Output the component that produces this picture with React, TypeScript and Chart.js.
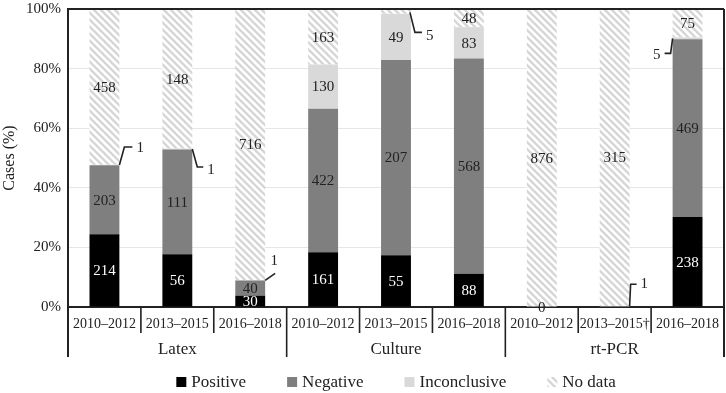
import React, { useEffect, useRef } from "react";
import { Chart, registerables } from "chart.js";

Chart.register(...registerables);

// ---------- data ----------
const categories = [
  "2010–2012", "2013–2015", "2016–2018",
  "2010–2012", "2013–2015", "2016–2018",
  "2010–2012", "2013–2015†", "2016–2018",
];
const groups = ["Latex", "Culture", "rt-PCR"];
const groupSize = 3;
const seriesNames = ["Positive", "Negative", "Inconclusive", "No data"];
const positive = [214, 56, 30, 161, 55, 88, 0, 0, 238];
const negative = [203, 111, 40, 422, 207, 568, 0, 0, 469];
const inconclusive = [1, 1, 1, 130, 49, 83, 0, 1, 5];
const noData = [458, 148, 716, 163, 5, 48, 876, 315, 75];
const yTicks = [0, 20, 40, 60, 80, 100];

const counts = [positive, negative, inconclusive, noData];
const totals = categories.map((_, j) => counts.reduce((s, arr) => s + arr[j], 0));
const percents = counts.map((arr) => arr.map((v, j) => (v / totals[j]) * 100));

// ---------- styles ----------
const FONT = "'Liberation Serif', 'Times New Roman', serif";
const TEXT = "#222222";
const LINE = "#222222";

type Callout = {
  ds: number;
  idx: number;
  side: "left" | "right" | "center";
  path: [number, number][];
  label: [number, number];
  align: CanvasTextAlign;
};

const callouts: Callout[] = [
  { ds: 2, idx: 0, side: "right", path: [[0, 0], [5, -18], [13, -18]], label: [17, -17], align: "left" },
  { ds: 2, idx: 1, side: "right", path: [[0, 0], [5, 18], [11, 18]], label: [15, 21], align: "left" },
  { ds: 2, idx: 2, side: "right", path: [[0, 0], [10, -7]], label: [9, -19], align: "center" },
  { ds: 3, idx: 4, side: "right", path: [[-1, 1], [4, 21], [11, 21]], label: [15, 25], align: "left" },
  { ds: 2, idx: 8, side: "left", path: [[0, 0], [-2, 15], [-8, 15]], label: [-12, 17], align: "right" },
  { ds: 2, idx: 7, side: "right", path: [[0, 0], [1, -22], [7, -22]], label: [11, -22], align: "left" },
  { ds: 0, idx: 6, side: "center", path: [], label: [0, 1], align: "center" },
];

function makeHatch(): CanvasPattern | string {
  const s = 7;
  const c = document.createElement("canvas");
  c.width = s;
  c.height = s;
  const ctx = c.getContext("2d");
  if (!ctx) return "#e6e6e6";
  ctx.fillStyle = "#ffffff";
  ctx.fillRect(0, 0, s, s);
  ctx.strokeStyle = "#d6d6d6";
  ctx.lineWidth = 2.3;
  ctx.beginPath();
  for (const k of [-s, 0, s]) {
    ctx.moveTo(k - 1, -1);
    ctx.lineTo(k + s + 1, s + 1);
  }
  ctx.stroke();
  const p = ctx.createPattern(c, "repeat");
  return p || "#e6e6e6";
}

export default function App() {
  const ref = useRef<HTMLCanvasElement | null>(null);

  useEffect(() => {
    document.body.style.margin = "0";
    const canvas = ref.current;
    if (!canvas) return;
    const hatch = makeHatch();
    const fills: any[] = ["#000000", "#7f7f7f", "#d9d9d9", hatch];
    const labelColors = ["#ffffff", TEXT, TEXT, TEXT];

    const labelsPlugin = {
      id: "segLabels",
      afterDatasetsDraw(chart: any) {
        const ctx = chart.ctx as CanvasRenderingContext2D;
        ctx.save();
        ctx.font = `15px ${FONT}`;
        ctx.textBaseline = "middle";
        counts.forEach((arr, i) => {
          const meta = chart.getDatasetMeta(i);
          arr.forEach((v, j) => {
            const el: any = meta.data[j];
            if (!el) return;
            const mid = (el.y + el.base) / 2;
            const co = callouts.find((c) => c.ds === i && c.idx === j);
            if (co) {
              const ax =
                co.side === "right" ? el.x + el.width / 2 : co.side === "left" ? el.x - el.width / 2 : el.x;
              const ay = mid;
              if (co.path.length) {
                ctx.strokeStyle = LINE;
                ctx.lineWidth = 1.6;
                ctx.beginPath();
                co.path.forEach(([dx, dy], k) => {
                  if (k === 0) ctx.moveTo(ax + dx, ay + dy);
                  else ctx.lineTo(ax + dx, ay + dy);
                });
                ctx.stroke();
              }
              ctx.fillStyle = TEXT;
              ctx.textAlign = co.align;
              ctx.fillText(String(v), ax + co.label[0], ay + co.label[1]);
              return;
            }
            if (v <= 0) return;
            ctx.fillStyle = labelColors[i];
            ctx.textAlign = "center";
            ctx.fillText(String(v), el.x, mid + 1);
          });
        });
        ctx.restore();
      },
    };

    const framePlugin = {
      id: "frame",
      afterDraw(chart: any) {
        const ctx = chart.ctx as CanvasRenderingContext2D;
        const ca = chart.chartArea;
        const xs = chart.scales.x;
        const rowBottom = ca.bottom + 26;
        const groupBottom = ca.bottom + 50;
        ctx.save();
        ctx.strokeStyle = LINE;
        ctx.lineWidth = 2;
        ctx.beginPath();
        ctx.moveTo(ca.left - 1, ca.top);
        ctx.lineTo(ca.right, ca.top);
        ctx.moveTo(ca.right, ca.top);
        ctx.lineTo(ca.right, groupBottom);
        ctx.moveTo(ca.left, ca.bottom);
        ctx.lineTo(ca.left, groupBottom);
        ctx.stroke();
        ctx.lineWidth = 1.6;
        ctx.beginPath();
        for (let i = 1; i < categories.length; i++) {
          const x = (xs.getPixelForValue(i - 1) + xs.getPixelForValue(i)) / 2;
          const isGroup = i % groupSize === 0;
          ctx.moveTo(x, ca.bottom);
          ctx.lineTo(x, isGroup ? groupBottom : rowBottom);
        }
        ctx.stroke();
        ctx.fillStyle = TEXT;
        ctx.font = `17px ${FONT}`;
        ctx.textAlign = "center";
        ctx.textBaseline = "middle";
        groups.forEach((g, gi) => {
          const a = xs.getPixelForValue(gi * groupSize);
          const b = xs.getPixelForValue(gi * groupSize + groupSize - 1);
          ctx.fillText(g, (a + b) / 2, ca.bottom + 43);
        });
        const box = 10;
        const gap = 5;
        const spacing = 41;
        const widths = seriesNames.map((n) => ctx.measureText(n).width);
        const total =
          widths.reduce((s, w) => s + box + gap + w, 0) + spacing * (seriesNames.length - 1);
        let x = (ca.left + ca.right) / 2 - total / 2;
        const ly = chart.height - 11;
        ctx.textAlign = "left";
        seriesNames.forEach((n, i) => {
          ctx.fillStyle = fills[i];
          ctx.fillRect(x, ly - box / 2, box, box);
          ctx.fillStyle = TEXT;
          ctx.fillText(n, x + box + gap, ly + 1);
          x += box + gap + widths[i] + spacing;
        });
        ctx.restore();
      },
    };

    const chart = new Chart(canvas, {
      type: "bar",
      data: {
        labels: categories,
        datasets: seriesNames.map((name, i) => ({
          label: name,
          data: percents[i],
          backgroundColor: fills[i],
          borderWidth: 0,
          barPercentage: 0.41,
          categoryPercentage: 1,
        })),
      },
      options: {
        responsive: false,
        animation: false,
        layout: { padding: { top: 9, right: 2, bottom: 36, left: 0 } },
        plugins: {
          legend: { display: false },
          tooltip: { enabled: false },
        },
        scales: {
          x: {
            stacked: true,
            grid: { display: false, drawTicks: false },
            border: { display: true, color: LINE, width: 2 },
            ticks: {
              font: { family: FONT, size: 14 },
              color: TEXT,
              padding: 9,
              maxRotation: 0,
              autoSkip: false,
            },
            afterFit: (s: any) => {
              s.height = 50;
              s.paddingLeft = 0;
              s.paddingRight = 0;
            },
          },
          y: {
            stacked: true,
            min: 0,
            max: 100,
            afterBuildTicks: (s: any) => {
              s.ticks = yTicks.map((v) => ({ value: v }));
            },
            ticks: {
              font: { family: FONT, size: 15 },
              color: TEXT,
              padding: 7,
              callback: (v: any) => v + "%",
            },
            grid: { color: "#e6e6e6", drawTicks: false },
            border: { color: LINE, width: 2 },
            title: {
              display: true,
              text: "Cases (%)",
              font: { family: FONT, size: 16 },
              color: TEXT,
              padding: 0,
            },
            afterFit: (s: any) => {
              s.width = 68;
              s.paddingTop = 0;
              s.paddingBottom = 0;
            },
          },
        },
      } as any,
      plugins: [labelsPlugin, framePlugin],
    });

    return () => chart.destroy();
  }, []);

  return (
    <canvas
      ref={ref}
      width={726}
      height={393}
      style={{ display: "block", width: 726, height: 393 }}
    />
  );
}
